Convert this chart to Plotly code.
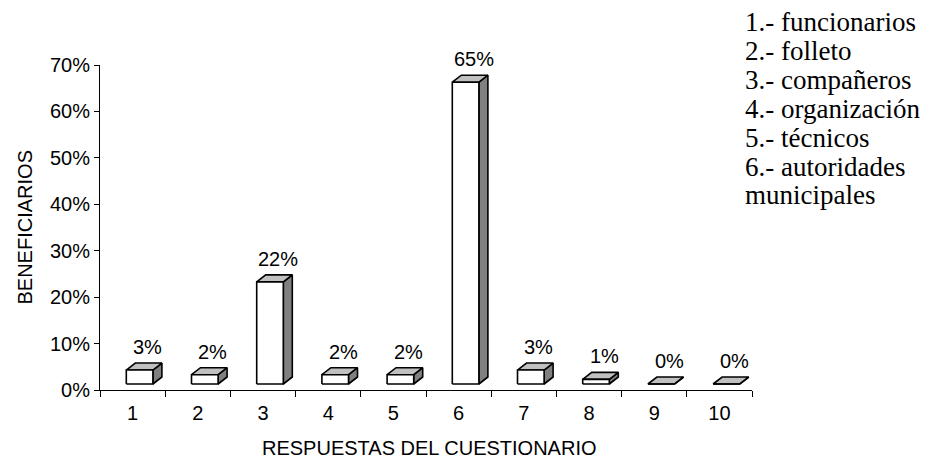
import plotly.graph_objects as go

# ---------------- data ----------------
categories = [1, 2, 3, 4, 5, 6, 7, 8, 9, 10]
values = [3, 2, 22, 2, 2, 65, 3, 1, 0, 0]
value_labels = ["3%", "2%", "22%", "2%", "2%", "65%", "3%", "1%", "0%", "0%"]
y_tick_values = [0, 10, 20, 30, 40, 50, 60, 70]
y_tick_labels = ["0%", "10%", "20%", "30%", "40%", "50%", "60%", "70%"]
legend_lines = [
    "1.- funcionarios",
    "2.- folleto",
    "3.- compañeros",
    "4.- organización",
    "5.- técnicos",
    "6.- autoridades",
    "municipales",
]
x_title = "RESPUESTAS DEL CUESTIONARIO"
y_title = "BENEFICIARIOS"

# ---------------- layout constants ----------------
W, H = 949, 459
ML, MR, MT, MB = 100, 197, 65, 69
PW, PH = W - ML - MR, H - MT - MB
Y_MAX = 70
PX_X = PW / len(categories)   # px per category
PX_Y = PH / Y_MAX             # px per percent

# pseudo-3D geometry (pixels converted to axis units)
BAR_SHIFT = 7 / PX_X
HALF_W = 13.3 / PX_X
DEPTH_X = 9 / PX_X
DEPTH_Y = 7 / PX_Y
FLOOR = 6 / PX_Y

fronts_x, fronts_y = [], []
tops_x, tops_y = [], []
sides_x, sides_y = [], []
for c, v in zip(categories, values):
    x0 = c + BAR_SHIFT - HALF_W
    x1 = c + BAR_SHIFT + HALF_W
    yb = FLOOR
    yt = FLOOR + v
    fronts_x += [x0, x1, x1, x0, x0, None]
    fronts_y += [yb, yb, yt, yt, yb, None]
    tops_x += [x0, x1, x1 + DEPTH_X, x0 + DEPTH_X, x0, None]
    tops_y += [yt, yt, yt + DEPTH_Y, yt + DEPTH_Y, yt, None]
    sides_x += [x1, x1 + DEPTH_X, x1 + DEPTH_X, x1, x1, None]
    sides_y += [yb, yb + DEPTH_Y, yt + DEPTH_Y, yt, yb, None]

edge = dict(color="black", width=1.6)
fig = go.Figure()
fig.add_trace(go.Scatter(x=sides_x, y=sides_y, mode="lines", fill="toself",
                         fillcolor="#808080", line=edge, hoverinfo="skip"))
fig.add_trace(go.Scatter(x=tops_x, y=tops_y, mode="lines", fill="toself",
                         fillcolor="#c0c0c0", line=edge, hoverinfo="skip"))
fig.add_trace(go.Scatter(x=fronts_x, y=fronts_y, mode="lines", fill="toself",
                         fillcolor="white", line=edge, hoverinfo="skip"))

FONT = "Liberation Sans, Arial, sans-serif"
SERIF = "Liberation Serif, Times New Roman, serif"

annotations = []
# value labels
for c, v, t in zip(categories, values, value_labels):
    annotations.append(dict(
        x=c, y=FLOOR + v, xref="x", yref="y", text=t, showarrow=False,
        xanchor="center", yanchor="middle", xshift=15, yshift=23,
        font=dict(family=FONT, size=20, color="black")))

# axis titles
annotations.append(dict(
    x=0.5, y=0, xref="paper", yref="paper", text=x_title, showarrow=False,
    xanchor="center", yanchor="middle", xshift=3, yshift=-58,
    font=dict(family=FONT, size=20, color="black")))
annotations.append(dict(
    x=0, y=0.5, xref="paper", yref="paper", text=y_title, showarrow=False,
    textangle=-90, xanchor="center", yanchor="middle", xshift=-76,
    font=dict(family=FONT, size=20, color="black")))

# legend text at right
for i, line in enumerate(legend_lines):
    ypx = 22 + 28.9 * i
    annotations.append(dict(
        x=(743 - ML) / PW, y=(MT + PH - ypx) / PH, xref="paper", yref="paper",
        text=line, showarrow=False, xanchor="left", yanchor="middle",
        font=dict(family=SERIF, size=27, color="black")))

fig.update_layout(
    width=W, height=H,
    margin=dict(l=ML, r=MR, t=MT, b=MB, pad=0),
    paper_bgcolor="white", plot_bgcolor="white",
    showlegend=False,
    hovermode=False,
    annotations=annotations,
    xaxis=dict(
        range=[0.5, len(categories) + 0.5],
        tickmode="array", tickvals=categories,
        ticktext=[str(c) for c in categories],
        ticks="", showgrid=False, zeroline=False,
        showline=True, linecolor="black", linewidth=1,
        tickfont=dict(family=FONT, size=20, color="black"),
        ticklabelstandoff=5,
        minor=dict(tickmode="array",
                   tickvals=[c + 0.5 for c in [0] + categories],
                   ticks="outside", ticklen=6, tickcolor="black", tickwidth=1),
        fixedrange=True,
    ),
    yaxis=dict(
        range=[0, Y_MAX],
        tickmode="array", tickvals=y_tick_values, ticktext=y_tick_labels,
        ticks="outside", ticklen=5, tickcolor="black", tickwidth=1,
        showgrid=False, zeroline=False,
        showline=True, linecolor="black", linewidth=1,
        tickfont=dict(family=FONT, size=20, color="black"),
        fixedrange=True,
    ),
)

fig.write_html(
    "out.html",
    config={"displayModeBar": False, "staticPlot": True},
    post_script="document.body.style.margin='0px';document.body.style.overflow='hidden';",
)
